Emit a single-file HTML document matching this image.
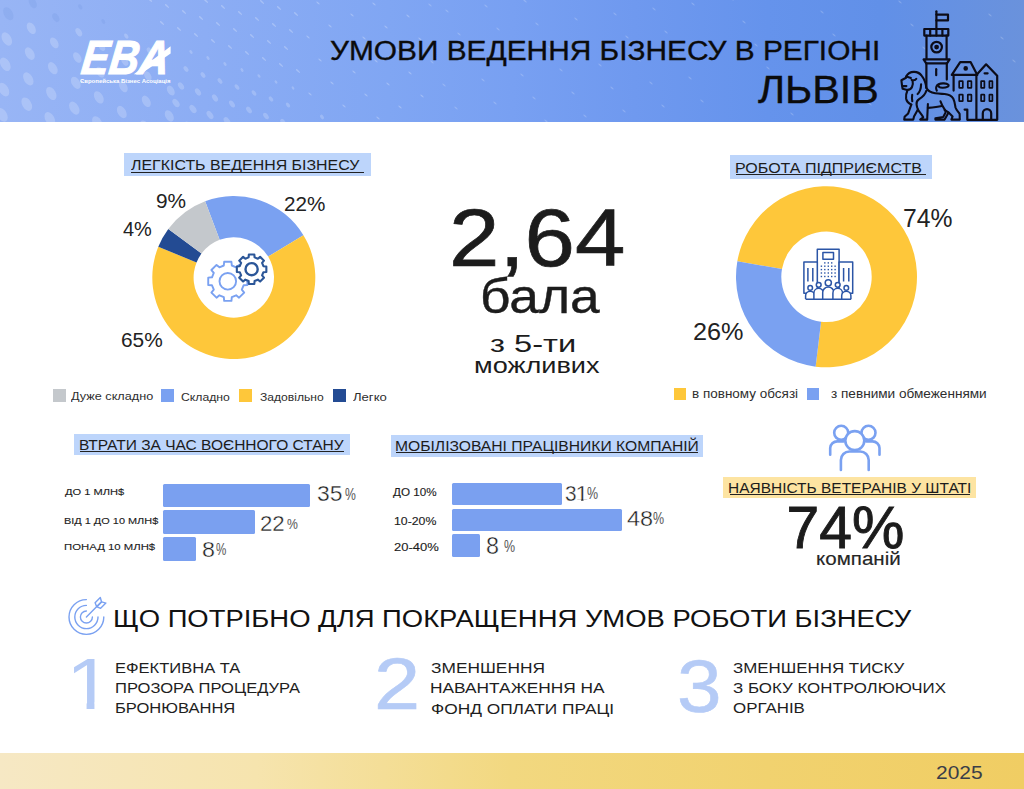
<!DOCTYPE html>
<html lang="uk"><head><meta charset="utf-8"><title>Умови ведення бізнесу в регіоні — Львів</title>
<style>
html,body{margin:0;padding:0;background:#fff;}
body{width:1024px;height:789px;position:relative;overflow:hidden;font-family:'Liberation Sans', 'DejaVu Sans', sans-serif;}
.t{position:absolute;white-space:nowrap;line-height:1;transform-origin:0 0;}
.abs{position:absolute;}
</style></head><body>
<div class="abs" style="left:0;top:0;width:1024px;height:122px;background:linear-gradient(90deg,#98b5f5 0%,#8cadf4 20%,#80a6f3 38%,#78a0f2 50%,#6f99ef 62%,#6593ec 75%,#6190e8 86%,#6a92dc 100%);"></div><svg class="abs" style="left:0;top:0" width="1024" height="122"><g fill="#fff"><ellipse cx="8.3" cy="13.7" rx="4.37" ry="7.03" transform="rotate(-30 8.3 13.7)" fill="#5f83d6" fill-opacity="0.15"/><ellipse cx="6.8" cy="39.0" rx="4.49" ry="7.22" transform="rotate(-30 6.8 39.0)" fill-opacity="0.2"/><ellipse cx="5.3" cy="64.3" rx="4.56" ry="7.33" transform="rotate(-30 5.3 64.3)" fill-opacity="0.2"/><ellipse cx="3.8" cy="89.6" rx="4.59" ry="7.38" transform="rotate(-30 3.8 89.6)" fill-opacity="0.2"/><ellipse cx="2.3" cy="114.9" rx="4.60" ry="7.40" transform="rotate(-30 2.3 114.9)" fill-opacity="0.2"/><ellipse cx="32.8" cy="3.0" rx="3.46" ry="5.57" transform="rotate(-30 32.8 3.0)" fill="#5f83d6" fill-opacity="0.15"/><ellipse cx="31.3" cy="28.3" rx="3.91" ry="6.30" transform="rotate(-30 31.3 28.3)" fill-opacity="0.2"/><ellipse cx="29.8" cy="53.6" rx="4.24" ry="6.82" transform="rotate(-30 29.8 53.6)" fill-opacity="0.2"/><ellipse cx="28.3" cy="78.9" rx="4.45" ry="7.16" transform="rotate(-30 28.3 78.9)" fill-opacity="0.2"/><ellipse cx="26.8" cy="104.2" rx="4.56" ry="7.34" transform="rotate(-30 26.8 104.2)" fill-opacity="0.2"/><ellipse cx="25.3" cy="129.5" rx="4.58" ry="7.37" transform="rotate(-30 25.3 129.5)" fill-opacity="0.2"/><ellipse cx="57.3" cy="-7.7" rx="2.17" ry="3.48" transform="rotate(-30 57.3 -7.7)" fill="#5f83d6" fill-opacity="0.15"/><ellipse cx="55.8" cy="17.6" rx="3.02" ry="4.86" transform="rotate(-30 55.8 17.6)" fill="#5f83d6" fill-opacity="0.15"/><ellipse cx="54.3" cy="42.9" rx="3.68" ry="5.91" transform="rotate(-30 54.3 42.9)" fill-opacity="0.2"/><ellipse cx="52.8" cy="68.2" rx="4.14" ry="6.66" transform="rotate(-30 52.8 68.2)" fill-opacity="0.2"/><ellipse cx="51.3" cy="93.5" rx="4.42" ry="7.11" transform="rotate(-30 51.3 93.5)" fill-opacity="0.2"/><ellipse cx="49.8" cy="118.8" rx="4.54" ry="7.30" transform="rotate(-30 49.8 118.8)" fill-opacity="0.2"/><ellipse cx="80.3" cy="6.9" rx="1.77" ry="2.85" transform="rotate(-30 80.3 6.9)" fill="#5f83d6" fill-opacity="0.15"/><ellipse cx="78.8" cy="32.2" rx="2.82" ry="4.54" transform="rotate(-30 78.8 32.2)" fill-opacity="0.2"/><ellipse cx="77.3" cy="57.5" rx="3.60" ry="5.80" transform="rotate(-30 77.3 57.5)" fill-opacity="0.2"/><ellipse cx="75.8" cy="82.8" rx="4.13" ry="6.64" transform="rotate(-30 75.8 82.8)" fill-opacity="0.2"/><ellipse cx="74.3" cy="108.1" rx="4.42" ry="7.10" transform="rotate(-30 74.3 108.1)" fill-opacity="0.2"/><ellipse cx="103.3" cy="21.5" rx="1.62" ry="2.61" transform="rotate(-30 103.3 21.5)" fill="#5f83d6" fill-opacity="0.15"/><ellipse cx="101.8" cy="46.8" rx="2.80" ry="4.50" transform="rotate(-30 101.8 46.8)" fill-opacity="0.2"/><ellipse cx="100.3" cy="72.1" rx="3.64" ry="5.86" transform="rotate(-30 100.3 72.1)" fill-opacity="0.2"/><ellipse cx="98.8" cy="97.4" rx="4.16" ry="6.70" transform="rotate(-30 98.8 97.4)" fill-opacity="0.2"/><ellipse cx="97.3" cy="122.7" rx="4.38" ry="7.05" transform="rotate(-30 97.3 122.7)" fill-opacity="0.2"/><ellipse cx="126.3" cy="36.1" rx="1.78" ry="2.86" transform="rotate(-30 126.3 36.1)" fill-opacity="0.2"/><ellipse cx="124.8" cy="61.4" rx="2.94" ry="4.73" transform="rotate(-30 124.8 61.4)" fill-opacity="0.2"/><ellipse cx="123.3" cy="86.7" rx="3.74" ry="6.02" transform="rotate(-30 123.3 86.7)" fill-opacity="0.2"/><ellipse cx="121.8" cy="112.0" rx="4.18" ry="6.73" transform="rotate(-30 121.8 112.0)" fill-opacity="0.2"/><ellipse cx="149.3" cy="50.7" rx="2.20" ry="3.55" transform="rotate(-30 149.3 50.7)" fill-opacity="0.2"/><ellipse cx="147.8" cy="76.0" rx="3.21" ry="5.16" transform="rotate(-30 147.8 76.0)" fill-opacity="0.2"/><ellipse cx="146.3" cy="101.3" rx="3.85" ry="6.19" transform="rotate(-30 146.3 101.3)" fill-opacity="0.2"/><ellipse cx="144.8" cy="126.6" rx="4.13" ry="6.64" transform="rotate(-30 144.8 126.6)" fill-opacity="0.2"/><ellipse cx="170.8" cy="90.6" rx="3.38" ry="5.43" transform="rotate(-30 170.8 90.6)" fill-opacity="0.2"/><ellipse cx="169.3" cy="115.9" rx="3.87" ry="6.22" transform="rotate(-30 169.3 115.9)" fill-opacity="0.2"/><ellipse cx="150.0" cy="0.0" rx="0.8" ry="2.7" transform="rotate(-48 150.0 0.0)" fill-opacity="0.26"/><ellipse cx="167.0" cy="6.0" rx="0.8" ry="2.7" transform="rotate(-48 167.0 6.0)" fill-opacity="0.26"/><ellipse cx="162.0" cy="23.0" rx="0.8" ry="2.7" transform="rotate(-48 162.0 23.0)" fill-opacity="0.26"/><ellipse cx="184.0" cy="12.0" rx="0.8" ry="2.7" transform="rotate(-48 184.0 12.0)" fill-opacity="0.26"/><ellipse cx="179.0" cy="29.0" rx="0.8" ry="2.7" transform="rotate(-48 179.0 29.0)" fill-opacity="0.26"/><ellipse cx="206.0" cy="1.0" rx="0.8" ry="2.7" transform="rotate(-48 206.0 1.0)" fill-opacity="0.26"/><ellipse cx="201.0" cy="18.0" rx="0.8" ry="2.7" transform="rotate(-48 201.0 18.0)" fill-opacity="0.26"/><ellipse cx="196.0" cy="35.0" rx="0.8" ry="2.7" transform="rotate(-48 196.0 35.0)" fill-opacity="0.26"/><ellipse cx="191.0" cy="52.0" rx="1.29" ry="2.14" transform="rotate(-36 191.0 52.0)" fill-opacity="0.2"/><ellipse cx="186.0" cy="69.0" rx="1.94" ry="3.23" transform="rotate(-36 186.0 69.0)" fill-opacity="0.2"/><ellipse cx="181.0" cy="86.0" rx="2.45" ry="4.08" transform="rotate(-36 181.0 86.0)" fill-opacity="0.2"/><ellipse cx="176.0" cy="103.0" rx="2.82" ry="4.70" transform="rotate(-36 176.0 103.0)" fill-opacity="0.2"/><ellipse cx="223.0" cy="7.0" rx="0.8" ry="2.7" transform="rotate(-48 223.0 7.0)" fill-opacity="0.26"/><ellipse cx="218.0" cy="24.0" rx="0.8" ry="2.7" transform="rotate(-48 218.0 24.0)" fill-opacity="0.26"/><ellipse cx="213.0" cy="41.0" rx="0.8" ry="2.7" transform="rotate(-48 213.0 41.0)" fill-opacity="0.26"/><ellipse cx="208.0" cy="58.0" rx="1.29" ry="2.15" transform="rotate(-36 208.0 58.0)" fill-opacity="0.2"/><ellipse cx="203.0" cy="75.0" rx="1.92" ry="3.21" transform="rotate(-36 203.0 75.0)" fill-opacity="0.2"/><ellipse cx="198.0" cy="92.0" rx="2.42" ry="4.03" transform="rotate(-36 198.0 92.0)" fill-opacity="0.2"/><ellipse cx="193.0" cy="109.0" rx="2.77" ry="4.62" transform="rotate(-36 193.0 109.0)" fill-opacity="0.2"/><ellipse cx="188.0" cy="126.0" rx="2.98" ry="4.97" transform="rotate(-36 188.0 126.0)" fill-opacity="0.2"/><ellipse cx="245.0" cy="-4.0" rx="0.8" ry="2.7" transform="rotate(-48 245.0 -4.0)" fill-opacity="0.26"/><ellipse cx="240.0" cy="13.0" rx="0.8" ry="2.7" transform="rotate(-48 240.0 13.0)" fill-opacity="0.26"/><ellipse cx="235.0" cy="30.0" rx="0.8" ry="2.7" transform="rotate(-48 235.0 30.0)" fill-opacity="0.26"/><ellipse cx="230.0" cy="47.0" rx="0.8" ry="2.7" transform="rotate(-48 230.0 47.0)" fill-opacity="0.26"/><ellipse cx="225.0" cy="64.0" rx="1.27" ry="2.12" transform="rotate(-36 225.0 64.0)" fill-opacity="0.2"/><ellipse cx="220.0" cy="81.0" rx="1.90" ry="3.16" transform="rotate(-36 220.0 81.0)" fill-opacity="0.2"/><ellipse cx="215.0" cy="98.0" rx="2.38" ry="3.96" transform="rotate(-36 215.0 98.0)" fill-opacity="0.2"/><ellipse cx="210.0" cy="115.0" rx="2.71" ry="4.52" transform="rotate(-36 210.0 115.0)" fill-opacity="0.2"/><ellipse cx="262.0" cy="2.0" rx="0.8" ry="2.7" transform="rotate(-48 262.0 2.0)" fill-opacity="0.26"/><ellipse cx="257.0" cy="19.0" rx="0.8" ry="2.7" transform="rotate(-48 257.0 19.0)" fill-opacity="0.26"/><ellipse cx="252.0" cy="36.0" rx="0.8" ry="2.7" transform="rotate(-48 252.0 36.0)" fill-opacity="0.26"/><ellipse cx="247.0" cy="53.0" rx="0.8" ry="2.7" transform="rotate(-48 247.0 53.0)" fill-opacity="0.26"/><ellipse cx="242.0" cy="70.0" rx="1.25" ry="2.08" transform="rotate(-36 242.0 70.0)" fill-opacity="0.2"/><ellipse cx="237.0" cy="87.0" rx="1.86" ry="3.10" transform="rotate(-36 237.0 87.0)" fill-opacity="0.2"/><ellipse cx="232.0" cy="104.0" rx="2.32" ry="3.87" transform="rotate(-36 232.0 104.0)" fill-opacity="0.2"/><ellipse cx="227.0" cy="121.0" rx="2.64" ry="4.40" transform="rotate(-36 227.0 121.0)" fill-opacity="0.2"/><ellipse cx="279.0" cy="8.0" rx="0.8" ry="2.7" transform="rotate(-48 279.0 8.0)" fill-opacity="0.26"/><ellipse cx="274.0" cy="25.0" rx="0.8" ry="2.7" transform="rotate(-48 274.0 25.0)" fill-opacity="0.26"/><ellipse cx="269.0" cy="42.0" rx="0.8" ry="2.7" transform="rotate(-48 269.0 42.0)" fill-opacity="0.26"/><ellipse cx="264.0" cy="59.0" rx="0.8" ry="2.7" transform="rotate(-48 264.0 59.0)" fill-opacity="0.26"/><ellipse cx="259.0" cy="76.0" rx="1.21" ry="2.02" transform="rotate(-36 259.0 76.0)" fill-opacity="0.2"/><ellipse cx="254.0" cy="93.0" rx="1.81" ry="3.02" transform="rotate(-36 254.0 93.0)" fill-opacity="0.2"/><ellipse cx="249.0" cy="110.0" rx="2.26" ry="3.77" transform="rotate(-36 249.0 110.0)" fill-opacity="0.2"/><ellipse cx="296.0" cy="14.0" rx="0.8" ry="2.7" transform="rotate(-48 296.0 14.0)" fill-opacity="0.26"/><ellipse cx="291.0" cy="31.0" rx="0.8" ry="2.7" transform="rotate(-48 291.0 31.0)" fill-opacity="0.26"/><ellipse cx="286.0" cy="48.0" rx="0.8" ry="2.7" transform="rotate(-48 286.0 48.0)" fill-opacity="0.26"/><ellipse cx="281.0" cy="65.0" rx="0.8" ry="2.7" transform="rotate(-48 281.0 65.0)" fill-opacity="0.26"/><ellipse cx="276.0" cy="82.0" rx="1.16" ry="1.94" transform="rotate(-36 276.0 82.0)" fill-opacity="0.2"/><ellipse cx="271.0" cy="99.0" rx="1.75" ry="2.92" transform="rotate(-36 271.0 99.0)" fill-opacity="0.2"/><ellipse cx="266.0" cy="116.0" rx="2.20" ry="3.66" transform="rotate(-36 266.0 116.0)" fill-opacity="0.2"/><ellipse cx="318.0" cy="3.0" rx="0.7" ry="2.2" transform="rotate(-48 318.0 3.0)" fill-opacity="0.26"/><ellipse cx="308.0" cy="37.0" rx="0.7" ry="2.2" transform="rotate(-48 308.0 37.0)" fill-opacity="0.26"/><ellipse cx="298.0" cy="71.0" rx="0.8" ry="2.7" transform="rotate(-48 298.0 71.0)" fill-opacity="0.26"/><ellipse cx="293.0" cy="88.0" rx="1.11" ry="1.85" transform="rotate(-36 293.0 88.0)" fill-opacity="0.2"/><ellipse cx="288.0" cy="105.0" rx="1.70" ry="2.83" transform="rotate(-36 288.0 105.0)" fill-opacity="0.2"/><ellipse cx="283.0" cy="122.0" rx="2.13" ry="3.55" transform="rotate(-36 283.0 122.0)" fill-opacity="0.2"/><ellipse cx="330.0" cy="26.0" rx="0.7" ry="2.2" transform="rotate(-48 330.0 26.0)" fill-opacity="0.26"/><ellipse cx="320.0" cy="60.0" rx="0.7" ry="2.2" transform="rotate(-48 320.0 60.0)" fill-opacity="0.26"/><ellipse cx="310.0" cy="94.0" rx="0.7" ry="2.2" transform="rotate(-48 310.0 94.0)" fill-opacity="0.26"/><ellipse cx="352.0" cy="15.0" rx="0.7" ry="2.2" transform="rotate(-48 352.0 15.0)" fill-opacity="0.26"/><ellipse cx="342.0" cy="49.0" rx="0.7" ry="2.2" transform="rotate(-48 342.0 49.0)" fill-opacity="0.26"/><ellipse cx="332.0" cy="83.0" rx="0.7" ry="2.2" transform="rotate(-48 332.0 83.0)" fill-opacity="0.26"/><ellipse cx="322.0" cy="117.0" rx="1.57" ry="2.62" transform="rotate(-36 322.0 117.0)" fill-opacity="0.2"/><ellipse cx="374.0" cy="4.0" rx="0.7" ry="2.2" transform="rotate(-48 374.0 4.0)" fill-opacity="0.26"/><ellipse cx="364.0" cy="38.0" rx="0.7" ry="2.2" transform="rotate(-48 364.0 38.0)" fill-opacity="0.26"/><ellipse cx="354.0" cy="72.0" rx="0.7" ry="2.2" transform="rotate(-48 354.0 72.0)" fill-opacity="0.26"/><ellipse cx="344.0" cy="106.0" rx="0.7" ry="2.2" transform="rotate(-48 344.0 106.0)" fill-opacity="0.26"/><ellipse cx="386.0" cy="27.0" rx="0.7" ry="2.2" transform="rotate(-48 386.0 27.0)" fill-opacity="0.26"/><ellipse cx="376.0" cy="61.0" rx="0.7" ry="2.2" transform="rotate(-48 376.0 61.0)" fill-opacity="0.26"/><ellipse cx="366.0" cy="95.0" rx="0.7" ry="2.2" transform="rotate(-48 366.0 95.0)" fill-opacity="0.26"/><ellipse cx="408.0" cy="16.0" rx="0.7" ry="2.2" transform="rotate(-48 408.0 16.0)" fill-opacity="0.26"/><ellipse cx="398.0" cy="50.0" rx="0.7" ry="2.2" transform="rotate(-48 398.0 50.0)" fill-opacity="0.26"/><ellipse cx="388.0" cy="84.0" rx="0.7" ry="2.2" transform="rotate(-48 388.0 84.0)" fill-opacity="0.26"/><ellipse cx="378.0" cy="118.0" rx="0.7" ry="2.2" transform="rotate(-48 378.0 118.0)" fill-opacity="0.26"/><ellipse cx="430.0" cy="5.0" rx="0.7" ry="2.2" transform="rotate(-48 430.0 5.0)" fill-opacity="0.2"/><ellipse cx="420.0" cy="39.0" rx="0.7" ry="2.2" transform="rotate(-48 420.0 39.0)" fill-opacity="0.26"/><ellipse cx="410.0" cy="73.0" rx="0.7" ry="2.2" transform="rotate(-48 410.0 73.0)" fill-opacity="0.26"/><ellipse cx="400.0" cy="107.0" rx="0.7" ry="2.2" transform="rotate(-48 400.0 107.0)" fill-opacity="0.26"/><ellipse cx="447.0" cy="11.0" rx="0.7" ry="2.2" transform="rotate(-48 447.0 11.0)" fill-opacity="0.2"/><ellipse cx="432.0" cy="62.0" rx="0.7" ry="2.2" transform="rotate(-48 432.0 62.0)" fill-opacity="0.2"/><ellipse cx="422.0" cy="96.0" rx="0.7" ry="2.2" transform="rotate(-48 422.0 96.0)" fill-opacity="0.26"/><ellipse cx="459.0" cy="34.0" rx="0.7" ry="2.2" transform="rotate(-48 459.0 34.0)" fill-opacity="0.2"/><ellipse cx="444.0" cy="85.0" rx="0.7" ry="2.2" transform="rotate(-48 444.0 85.0)" fill-opacity="0.2"/><ellipse cx="486.0" cy="6.0" rx="0.7" ry="2.2" transform="rotate(-48 486.0 6.0)" fill-opacity="0.2"/><ellipse cx="471.0" cy="57.0" rx="0.7" ry="2.2" transform="rotate(-48 471.0 57.0)" fill-opacity="0.2"/><ellipse cx="456.0" cy="108.0" rx="0.7" ry="2.2" transform="rotate(-48 456.0 108.0)" fill-opacity="0.2"/><ellipse cx="498.0" cy="29.0" rx="0.7" ry="2.2" transform="rotate(-48 498.0 29.0)" fill-opacity="0.2"/><ellipse cx="483.0" cy="80.0" rx="0.7" ry="2.2" transform="rotate(-48 483.0 80.0)" fill-opacity="0.2"/><ellipse cx="525.0" cy="1.0" rx="0.7" ry="2.2" transform="rotate(-48 525.0 1.0)" fill-opacity="0.2"/><ellipse cx="510.0" cy="52.0" rx="0.7" ry="2.2" transform="rotate(-48 510.0 52.0)" fill-opacity="0.2"/><ellipse cx="495.0" cy="103.0" rx="0.7" ry="2.2" transform="rotate(-48 495.0 103.0)" fill-opacity="0.2"/><ellipse cx="537.0" cy="24.0" rx="0.7" ry="2.2" transform="rotate(-48 537.0 24.0)" fill-opacity="0.2"/><ellipse cx="522.0" cy="75.0" rx="0.7" ry="2.2" transform="rotate(-48 522.0 75.0)" fill-opacity="0.2"/><ellipse cx="507.0" cy="126.0" rx="0.7" ry="2.2" transform="rotate(-48 507.0 126.0)" fill-opacity="0.2"/><ellipse cx="564.0" cy="-4.0" rx="0.7" ry="2.2" transform="rotate(-48 564.0 -4.0)" fill-opacity="0.2"/><ellipse cx="549.0" cy="47.0" rx="0.7" ry="2.2" transform="rotate(-48 549.0 47.0)" fill-opacity="0.2"/><ellipse cx="534.0" cy="98.0" rx="0.7" ry="2.2" transform="rotate(-48 534.0 98.0)" fill-opacity="0.2"/><ellipse cx="576.0" cy="19.0" rx="0.7" ry="2.2" transform="rotate(-48 576.0 19.0)" fill-opacity="0.2"/><ellipse cx="561.0" cy="70.0" rx="0.7" ry="2.2" transform="rotate(-48 561.0 70.0)" fill-opacity="0.2"/><ellipse cx="546.0" cy="121.0" rx="0.7" ry="2.2" transform="rotate(-48 546.0 121.0)" fill-opacity="0.2"/><ellipse cx="588.0" cy="42.0" rx="0.7" ry="2.2" transform="rotate(-48 588.0 42.0)" fill-opacity="0.2"/><ellipse cx="573.0" cy="93.0" rx="0.7" ry="2.2" transform="rotate(-48 573.0 93.0)" fill-opacity="0.2"/><ellipse cx="615.0" cy="14.0" rx="0.7" ry="2.2" transform="rotate(-48 615.0 14.0)" fill-opacity="0.2"/><ellipse cx="600.0" cy="65.0" rx="0.7" ry="2.2" transform="rotate(-48 600.0 65.0)" fill-opacity="0.2"/><ellipse cx="585.0" cy="116.0" rx="0.7" ry="2.2" transform="rotate(-48 585.0 116.0)" fill-opacity="0.2"/><ellipse cx="627.0" cy="37.0" rx="0.7" ry="2.2" transform="rotate(-48 627.0 37.0)" fill-opacity="0.2"/><ellipse cx="612.0" cy="88.0" rx="0.7" ry="2.2" transform="rotate(-48 612.0 88.0)" fill-opacity="0.2"/><ellipse cx="654.0" cy="9.0" rx="0.7" ry="2.2" transform="rotate(-48 654.0 9.0)" fill-opacity="0.2"/><ellipse cx="639.0" cy="60.0" rx="0.7" ry="2.2" transform="rotate(-48 639.0 60.0)" fill-opacity="0.2"/><ellipse cx="624.0" cy="111.0" rx="0.7" ry="2.2" transform="rotate(-48 624.0 111.0)" fill-opacity="0.2"/><ellipse cx="666.0" cy="32.0" rx="0.7" ry="2.2" transform="rotate(-48 666.0 32.0)" fill-opacity="0.2"/><ellipse cx="651.0" cy="83.0" rx="0.7" ry="2.2" transform="rotate(-48 651.0 83.0)" fill-opacity="0.2"/><ellipse cx="693.0" cy="4.0" rx="0.7" ry="2.2" transform="rotate(-48 693.0 4.0)" fill-opacity="0.2"/><ellipse cx="678.0" cy="55.0" rx="0.7" ry="2.2" transform="rotate(-48 678.0 55.0)" fill-opacity="0.2"/><ellipse cx="663.0" cy="106.0" rx="0.7" ry="2.2" transform="rotate(-48 663.0 106.0)" fill-opacity="0.2"/><ellipse cx="690.0" cy="78.0" rx="0.7" ry="2.2" transform="rotate(-48 690.0 78.0)" fill-opacity="0.2"/><ellipse cx="732.0" cy="-1.0" rx="0.7" ry="2.2" transform="rotate(-48 732.0 -1.0)" fill-opacity="0.2"/><ellipse cx="702.0" cy="101.0" rx="0.7" ry="2.2" transform="rotate(-48 702.0 101.0)" fill-opacity="0.2"/><ellipse cx="744.0" cy="22.0" rx="0.7" ry="2.2" transform="rotate(-48 744.0 22.0)" fill-opacity="0.2"/><ellipse cx="714.0" cy="124.0" rx="0.7" ry="2.2" transform="rotate(-48 714.0 124.0)" fill-opacity="0.2"/><ellipse cx="756.0" cy="45.0" rx="0.7" ry="2.2" transform="rotate(-48 756.0 45.0)" fill-opacity="0.2"/><ellipse cx="768.0" cy="68.0" rx="0.7" ry="2.2" transform="rotate(-48 768.0 68.0)" fill-opacity="0.2"/><ellipse cx="780.0" cy="91.0" rx="0.7" ry="2.2" transform="rotate(-48 780.0 91.0)" fill-opacity="0.2"/><ellipse cx="822.0" cy="12.0" rx="0.7" ry="2.2" transform="rotate(-48 822.0 12.0)" fill-opacity="0.2"/><ellipse cx="792.0" cy="114.0" rx="0.7" ry="2.2" transform="rotate(-48 792.0 114.0)" fill-opacity="0.2"/><ellipse cx="834.0" cy="35.0" rx="0.7" ry="2.2" transform="rotate(-48 834.0 35.0)" fill-opacity="0.2"/><ellipse cx="846.0" cy="58.0" rx="0.7" ry="2.2" transform="rotate(-48 846.0 58.0)" fill-opacity="0.2"/><ellipse cx="858.0" cy="81.0" rx="0.7" ry="2.2" transform="rotate(-48 858.0 81.0)" fill-opacity="0.2"/><ellipse cx="900.0" cy="2.0" rx="0.7" ry="2.2" transform="rotate(-48 900.0 2.0)" fill-opacity="0.2"/><ellipse cx="870.0" cy="104.0" rx="0.7" ry="2.2" transform="rotate(-48 870.0 104.0)" fill-opacity="0.2"/><ellipse cx="912.0" cy="25.0" rx="0.7" ry="2.2" transform="rotate(-48 912.0 25.0)" fill-opacity="0.2"/><ellipse cx="924.0" cy="48.0" rx="0.7" ry="2.2" transform="rotate(-48 924.0 48.0)" fill-opacity="0.2"/><ellipse cx="936.0" cy="71.0" rx="0.7" ry="2.2" transform="rotate(-48 936.0 71.0)" fill-opacity="0.2"/><ellipse cx="948.0" cy="94.0" rx="0.7" ry="2.2" transform="rotate(-48 948.0 94.0)" fill-opacity="0.2"/><ellipse cx="990.0" cy="15.0" rx="0.7" ry="2.2" transform="rotate(-48 990.0 15.0)" fill-opacity="0.2"/><ellipse cx="960.0" cy="117.0" rx="0.7" ry="2.2" transform="rotate(-48 960.0 117.0)" fill-opacity="0.2"/><ellipse cx="1002.0" cy="38.0" rx="0.7" ry="2.2" transform="rotate(-48 1002.0 38.0)" fill-opacity="0.2"/><ellipse cx="1014.0" cy="61.0" rx="0.7" ry="2.2" transform="rotate(-48 1014.0 61.0)" fill-opacity="0.2"/></g></svg><svg class="abs" style="left:0;top:0" width="200" height="100"><path d="M133.8,74.3 L140.5,74.3 L170.6,53.5 L170.6,46.2 Z" fill="#fff"/></svg><div class="abs" style="left:0;top:753px;width:1024px;height:36px;background:linear-gradient(90deg,#f6e8c4 0%,#f6e4ae 25%,#f2d880 50%,#f1d26f 75%,#f0cd63 100%);"></div><div class="abs" style="left:124px;top:153px;width:246.5px;height:23px;background:#bdd5fb;"></div><div class="abs" style="left:730px;top:155.2px;width:202px;height:23.400000000000006px;background:#bdd5fb;"></div><div class="abs" style="left:74px;top:433.5px;width:276px;height:21.5px;background:#bdd5fb;"></div><div class="abs" style="left:391.3px;top:434.7px;width:311.7px;height:21.900000000000034px;background:#bdd5fb;"></div><div class="abs" style="left:723.4px;top:476.6px;width:252.60000000000002px;height:21.099999999999966px;background:#fde4a2;"></div><div class="abs" style="left:163px;top:483.6px;width:146.89999999999998px;height:23.5px;background:#7aa0f0;border-radius:1.5px;"></div><div class="abs" style="left:163px;top:510.3px;width:92.1px;height:23.499999999999943px;background:#7aa0f0;border-radius:1.5px;"></div><div class="abs" style="left:163px;top:537.3px;width:33.19999999999999px;height:23.5px;background:#7aa0f0;border-radius:1.5px;"></div><div class="abs" style="left:452.1px;top:482.8px;width:109.5px;height:22.099999999999966px;background:#7aa0f0;border-radius:1.5px;"></div><div class="abs" style="left:452.1px;top:508.6px;width:169.79999999999995px;height:22.600000000000023px;background:#7aa0f0;border-radius:1.5px;"></div><div class="abs" style="left:452.1px;top:534.2px;width:28.19999999999999px;height:23.0px;background:#7aa0f0;border-radius:1.5px;"></div><div class="abs" style="left:52.9px;top:389.2px;width:13.2px;height:13px;background:#c4c8cc;"></div><div class="abs" style="left:160.9px;top:389.2px;width:13px;height:13px;background:#7aa1f1;"></div><div class="abs" style="left:238.9px;top:389.3px;width:13.3px;height:13.2px;background:#fec73a;"></div><div class="abs" style="left:333.1px;top:389.3px;width:12.6px;height:13.2px;background:#234b93;"></div><div class="abs" style="left:673.9px;top:387.9px;width:12.1px;height:11.8px;background:#fec73a;"></div><div class="abs" style="left:806.8px;top:387.9px;width:12px;height:11.8px;background:#7aa1f1;"></div><svg class="abs" style="left:0;top:0" width="1024" height="789" viewBox="0 0 1024 789"><path fill="#7aa1f1" d="M205.12,201.21 A81.5,81.5 0 0 1 303.44,235.16 L268.15,256.62 A40.2,40.2 0 0 0 219.66,239.87 Z"/><path fill="#fec73a" d="M303.44,235.16 A81.5,81.5 0 1 1 158.29,246.84 L196.55,262.38 A40.2,40.2 0 1 0 268.15,256.62 Z"/><path fill="#234b93" d="M158.29,246.84 A81.5,81.5 0 0 1 168.29,229.02 L201.48,253.59 A40.2,40.2 0 0 0 196.55,262.38 Z"/><path fill="#c4c8cc" d="M168.29,229.02 A81.5,81.5 0 0 1 205.12,201.21 L219.66,239.87 A40.2,40.2 0 0 0 201.48,253.59 Z"/><path fill="#fec73a" d="M737.35,261.24 A90.5,90.5 0 1 1 815.63,366.64 L821.07,321.67 A45.2,45.2 0 1 0 781.97,269.03 Z"/><path fill="#7aa1f1" d="M815.63,366.64 A90.5,90.5 0 0 1 737.35,261.24 L781.97,269.03 A45.2,45.2 0 0 0 821.07,321.67 Z"/><path d="M223.81,265.50 L224.17,261.73 L231.43,261.73 L231.79,265.50 L236.15,267.30 L239.07,264.90 L244.20,270.03 L241.80,272.95 L243.60,277.31 L247.37,277.67 L247.37,284.93 L243.60,285.29 L241.80,289.65 L244.20,292.57 L239.07,297.70 L236.15,295.30 L231.79,297.10 L231.43,300.87 L224.17,300.87 L223.81,297.10 L219.45,295.30 L216.53,297.70 L211.40,292.57 L213.80,289.65 L212.00,285.29 L208.23,284.93 L208.23,277.67 L212.00,277.31 L213.80,272.95 L211.40,270.03 L216.53,264.90 L219.45,267.30 Z" fill="#fff" stroke="#7aa1f1" stroke-width="1.9" stroke-linejoin="round"/><circle cx="227.8" cy="281.3" r="8.3" fill="none" stroke="#7aa1f1" stroke-width="1.9"/><path d="M248.61,257.37 L248.87,254.45 L254.33,254.45 L254.59,257.37 L257.85,258.72 L260.10,256.84 L263.96,260.70 L262.08,262.95 L263.43,266.21 L266.35,266.47 L266.35,271.93 L263.43,272.19 L262.08,275.45 L263.96,277.70 L260.10,281.56 L257.85,279.68 L254.59,281.03 L254.33,283.95 L248.87,283.95 L248.61,281.03 L245.35,279.68 L243.10,281.56 L239.24,277.70 L241.12,275.45 L239.77,272.19 L236.85,271.93 L236.85,266.47 L239.77,266.21 L241.12,262.95 L239.24,260.70 L243.10,256.84 L245.35,258.72 Z" fill="#fff" stroke="#2b5698" stroke-width="2.1" stroke-linejoin="round"/><circle cx="251.6" cy="269.2" r="6.1" fill="none" stroke="#2b5698" stroke-width="2.4"/><g transform="translate(798,243)" stroke="#2b55a6" stroke-width="1.5" fill="none" stroke-linejoin="round"><rect x="19.3" y="6.3" width="21.8" height="45" fill="#fff"/><rect x="5.9" y="18.9" width="13.4" height="31.3" fill="#fff"/><rect x="41.1" y="18.9" width="13.6" height="31.3" fill="#fff"/><rect x="24.9" y="9.5" width="10.6" height="6.7"/><path d="M9.9,25.1V38.4 M14.8,25.1V38.4 M45.6,25.1V38.4 M50.8,25.1V38.4"/><g fill="#2b55a6" stroke="none"><rect x="26.10" y="19.2" width="1.4" height="1.4"/><rect x="29.60" y="19.2" width="1.4" height="1.4"/><rect x="33.00" y="19.2" width="1.4" height="1.4"/><rect x="22.70" y="22.50" width="1.4" height="1.4"/><rect x="26.10" y="22.50" width="1.4" height="1.4"/><rect x="29.60" y="22.50" width="1.4" height="1.4"/><rect x="33.00" y="22.50" width="1.4" height="1.4"/><rect x="36.40" y="22.50" width="1.4" height="1.4"/><rect x="22.70" y="25.90" width="1.4" height="1.4"/><rect x="26.10" y="25.90" width="1.4" height="1.4"/><rect x="29.60" y="25.90" width="1.4" height="1.4"/><rect x="33.00" y="25.90" width="1.4" height="1.4"/><rect x="36.40" y="25.90" width="1.4" height="1.4"/><rect x="22.70" y="29.30" width="1.4" height="1.4"/><rect x="26.10" y="29.30" width="1.4" height="1.4"/><rect x="29.60" y="29.30" width="1.4" height="1.4"/><rect x="33.00" y="29.30" width="1.4" height="1.4"/><rect x="36.40" y="29.30" width="1.4" height="1.4"/><rect x="22.70" y="32.80" width="1.4" height="1.4"/><rect x="26.10" y="32.80" width="1.4" height="1.4"/><rect x="29.60" y="32.80" width="1.4" height="1.4"/><rect x="33.00" y="32.80" width="1.4" height="1.4"/><rect x="36.40" y="32.80" width="1.4" height="1.4"/></g><circle cx="12.2" cy="44.9" r="2.3" fill="#fff"/><path d="M7.6,56 L7.6,52.800000000000004 A4.6,4.6 0 0 1 16.799999999999997,52.800000000000004 L16.799999999999997,56" fill="#fff"/><circle cx="20.7" cy="41.8" r="2.4" fill="#fff"/><path d="M15.899999999999999,56 L15.899999999999999,50.099999999999994 A4.8,4.8 0 0 1 25.5,50.099999999999994 L25.5,56" fill="#fff"/><circle cx="30.3" cy="39.8" r="3.1" fill="#fff"/><path d="M24.700000000000003,56 L24.700000000000003,49.6 A5.6,5.6 0 0 1 35.9,49.6 L35.9,56" fill="#fff"/><circle cx="39.7" cy="41.8" r="2.4" fill="#fff"/><path d="M34.900000000000006,56 L34.900000000000006,50.099999999999994 A4.8,4.8 0 0 1 44.5,50.099999999999994 L44.5,56" fill="#fff"/><circle cx="48.3" cy="44.9" r="2.3" fill="#fff"/><path d="M43.699999999999996,56 L43.699999999999996,52.800000000000004 A4.6,4.6 0 0 1 52.9,52.800000000000004 L52.9,56" fill="#fff"/><path d="M7.6,56.2H53.2"/></g><g stroke="#7aa1f1" stroke-width="2.6" fill="none" stroke-linecap="round"><circle cx="841.2" cy="432.8" r="7.0"/><circle cx="868.5" cy="432.8" r="7.0"/><path d="M830.2,454.8 V448 A7,7 0 0 1 837.2,441.4 H843.5"/><path d="M879.5,454.8 V448 A7,7 0 0 0 872.5,441.4 H866.2"/><circle cx="854.8" cy="440.6" r="9.5" fill="#fff"/><path d="M840.9,470 V460 A8.5,8.5 0 0 1 849.4,451.5 H860.2 A8.5,8.5 0 0 1 868.7,460 V470"/></g><g stroke="#7aa1f1" stroke-width="1.4" fill="none" stroke-linecap="round" stroke-linejoin="round"><path d="M86.40,599.60 A17.4,17.4 0 1 0 103.80,617.00 M86.40,605.40 A11.6,11.6 0 1 0 98.00,617.00 M86.40,611.00 A6.0,6.0 0 1 0 92.40,617.00"/><path d="M86.4,617.0 l10.4,-10.4"/><path d="M96.60000000000001,606.4 l-1.5,-3.6 l5.2,-5.3 l1.2,4.3 z"/><path d="M97.0,606.8 l3.6,1.5 l5.3,-5.2 l-4.3,-1.2 z"/></g><g stroke="#0c0c18" stroke-width="2.2" fill="none" stroke-linecap="round" stroke-linejoin="round"><path d="M936.4,11.3 V28.3"/><path d="M936.4,14.6 H948.0 V20.4 H936.4"/><rect x="924.3" y="29" width="24" height="6.6"/><path d="M930.2,29 V35.6 M936.4,29 V35.6 M942.4,29 V35.6"/><path d="M926.5,35.6 V59.2 M946.6,35.6 V59.2"/><circle cx="936.6" cy="47.1" r="5.3"/><circle cx="936.6" cy="47.1" r="1.3" fill="#0c0c18"/><path d="M923.6,59.4 H949.6 L947,63.4 H926.2 Z"/><path d="M926.4,63.4 V87"/><path d="M946.8,63.4 V79.6"/><path d="M936.2,69.2 V75.2"/><path d="M951.8,74.9 L960.2,62.2 H970.7 L977.3,74.9 Z"/><circle cx="965.7" cy="68.4" r="1.2" fill="#0c0c18"/><path d="M953.6,74.9 V90.6"/><path d="M976.4,74.9 V119.6"/><path d="M964.6,109.6 H967.3 V119.8 H997.2 V75.8 L986.1,64.3 L977.3,74"/><path d="M984.6,73.3 H987.6"/><path d="M982.8,119.8 V113.3 A4.2,4.2 0 0 1 991.2,113.3 V119.8"/></g><g stroke="#0c0c18" stroke-width="1.7" fill="none"><rect x="959.2" y="81.2" width="3.6" height="6.6" rx="0.4"/><rect x="959.2" y="94.6" width="3.6" height="6.6" rx="0.4"/><rect x="967.8" y="81.2" width="3.6" height="6.6" rx="0.4"/><rect x="967.8" y="94.6" width="3.6" height="6.6" rx="0.4"/><rect x="981.1" y="81.2" width="3.3" height="6.6" rx="0.4"/><rect x="981.1" y="94.6" width="3.3" height="6.6" rx="0.4"/><rect x="989.4" y="81.2" width="3.0" height="6.6" rx="0.4"/><rect x="989.4" y="94.6" width="3.0" height="6.6" rx="0.4"/></g><g stroke="#0c0c18" stroke-width="2.1" fill="none" stroke-linecap="round" stroke-linejoin="round"><path d="M906.1,76.6 C908,73.2 911,71.8 914.2,71.9 C917.5,72 920,73.5 921.6,75.6 C924,78.6 925.8,83 926.3,87.8"/><path d="M926.3,87.8 C927.5,90.3 930.5,92.6 935.2,93.3 C939,93.9 942,93.8 944.5,94 C948.5,94.3 951.5,95.6 953.2,98.5 C954.8,101.5 955,105 955.5,107.5 C956.3,110 958,111.5 959.6,113.8 L959.8,119.6 L951.4,119.6 L952.6,116.4 L948.6,112.6 C947.2,111.4 945.6,110.6 944.6,110"/><path d="M906.1,77.8 L901.4,80.3 L902,85.4 L902.6,88.7 L907.3,89.9 C909.5,89.8 911.2,88.8 912,87 C912.9,85 913,82.6 912.6,81"/><path d="M902.6,86.1 H906.4"/><path d="M911.6,79.9 C913.6,80.5 915.5,80.2 916.3,78.8"/><path d="M906.3,76.6 L910.9,78"/><path d="M921.1,84.3 C921,88.5 919.8,92 917.6,94.1"/><path d="M912.2,94.9 C911.8,97 911.9,99 912.3,101.3"/><path d="M907.3,90.8 C906.3,93 905.8,96 906.1,98.5 C906.5,101 908.5,103.2 911.3,104.6"/><path d="M926.3,90.8 C925.5,94 922.5,97 919.1,99.2 C917,100.6 916.3,102.5 916.6,104.6 C916.8,106.5 917.3,108 917.9,109.4"/><path d="M911.3,104.6 L908.2,113.4 L904.6,116.8 L904.2,119.6 L913.3,119.6 L914,116.6 L917.9,109.4 C919.4,112.2 921.4,114 923.2,117.2 L920.2,119.6 L927.2,119.6 L927.3,116.6 L927.9,104"/><path d="M927.9,107.9 C933,107.4 938,106.8 941.8,105.9"/><path d="M940.5,101.3 C941.6,104.2 942.8,106.6 943.9,108.2 C945.2,110 945.8,111.2 945.6,112.6 L943.2,117 L935.4,118.2 L935.4,119.6 L944.6,119.6 L948.6,112.6"/><path d="M936.8,90.6 C935.6,88.6 935.8,85.6 938.5,84.2 C941.5,82.9 946.5,83.2 948.4,84.8 C949.4,86.4 946.5,87.9 942.5,87.8 C940,87.7 938.6,86.8 938.6,85.8"/></g></svg>
<div class="t" id="h1" style="left:329.73px;top:37.00px;font-size:27.59px;font-family:'Liberation Sans', 'DejaVu Sans', sans-serif;font-weight:400;font-style:normal;color:#0b0b0b;text-transform:uppercase;transform:scaleX(1.0821);-webkit-text-stroke:0.35px #0b0b0b;">Умови ведення бізнесу в регіоні</div>
<div class="t" id="h2" style="left:758.40px;top:71.00px;font-size:38.97px;font-family:'Liberation Sans', 'DejaVu Sans', sans-serif;font-weight:400;font-style:normal;color:#0b0b0b;text-transform:uppercase;transform:scaleX(1.0604);-webkit-text-stroke:0.4px #0b0b0b;">Львів</div>
<div class="t" id="eba" style="left:79.84px;top:33.90px;font-size:47.79px;font-family:'Liberation Sans', 'DejaVu Sans', sans-serif;font-weight:700;font-style:italic;color:#ffffff;transform:scaleX(0.8815);-webkit-text-stroke:1.1px #fff;transform-origin:0 40.4px;transform:scaleX(0.866) skewX(-8deg);">EBA</div>
<div class="t" id="ebs" style="left:79.61px;top:78.50px;font-size:5.55px;font-family:'Liberation Sans', 'DejaVu Sans', sans-serif;font-weight:700;font-style:normal;color:#ffffff;transform:scaleX(1.0802);">Європейська Бізнес Асоціація</div>
<div class="t" id="s1" style="left:130.60px;top:159.30px;font-size:13.94px;font-family:'Liberation Sans', 'DejaVu Sans', sans-serif;font-weight:400;font-style:normal;color:#1c1c1c;text-transform:uppercase;transform:scaleX(1.1429);">легкість ведення бізнесу</div>
<div class="t" id="s2" style="left:735.15px;top:161.00px;font-size:14.36px;font-family:'Liberation Sans', 'DejaVu Sans', sans-serif;font-weight:400;font-style:normal;color:#1c1c1c;text-transform:uppercase;transform:scaleX(1.1162);">Робота підприємств</div>
<div class="t" id="s3" style="left:78.79px;top:438.00px;font-size:14.65px;font-family:'Liberation Sans', 'DejaVu Sans', sans-serif;font-weight:400;font-style:normal;color:#1c1c1c;text-transform:uppercase;transform:scaleX(1.0598);">втрати за час воєнного стану</div>
<div class="t" id="s4" style="left:394.78px;top:439.00px;font-size:14.22px;font-family:'Liberation Sans', 'DejaVu Sans', sans-serif;font-weight:400;font-style:normal;color:#1c1c1c;text-transform:uppercase;transform:scaleX(1.1013);">мобілізовані працівники компаній</div>
<div class="t" id="s5" style="left:728.29px;top:481.20px;font-size:14.22px;font-family:'Liberation Sans', 'DejaVu Sans', sans-serif;font-weight:400;font-style:normal;color:#1c1c1c;text-transform:uppercase;transform:scaleX(1.0882);">наявність ветеранів у штаті</div>
<div class="t" id="p9" style="left:156.22px;top:190.40px;font-size:21.05px;font-family:'Liberation Sans', 'DejaVu Sans', sans-serif;font-weight:400;font-style:normal;color:#222;transform:scaleX(0.9893);">9%</div>
<div class="t" id="p22" style="left:284.13px;top:193.50px;font-size:20.91px;font-family:'Liberation Sans', 'DejaVu Sans', sans-serif;font-weight:400;font-style:normal;color:#222;transform:scaleX(0.9890);">22%</div>
<div class="t" id="p4" style="left:123.44px;top:218.90px;font-size:20.76px;font-family:'Liberation Sans', 'DejaVu Sans', sans-serif;font-weight:400;font-style:normal;color:#222;transform:scaleX(0.9615);">4%</div>
<div class="t" id="p65" style="left:120.72px;top:329.10px;font-size:21.05px;font-family:'Liberation Sans', 'DejaVu Sans', sans-serif;font-weight:400;font-style:normal;color:#222;transform:scaleX(0.9898);">65%</div>
<div class="t" id="p74" style="left:903.04px;top:206.00px;font-size:24.89px;font-family:'Liberation Sans', 'DejaVu Sans', sans-serif;font-weight:400;font-style:normal;color:#222;transform:scaleX(0.9936);">74%</div>
<div class="t" id="p26" style="left:693.32px;top:319.50px;font-size:24.75px;font-family:'Liberation Sans', 'DejaVu Sans', sans-serif;font-weight:400;font-style:normal;color:#222;transform:scaleX(1.0203);">26%</div>
<div class="t" id="big" style="left:449.05px;top:197.30px;font-size:81.92px;font-family:'Liberation Sans', 'DejaVu Sans', sans-serif;font-weight:400;font-style:normal;color:#1c1c1c;transform:scaleX(1.1064);-webkit-text-stroke:0.7px #1c1c1c;">2,64</div>
<div class="t" id="bala" style="left:480.20px;top:272.50px;font-size:47.73px;font-family:'Liberation Sans', 'DejaVu Sans', sans-serif;font-weight:400;font-style:normal;color:#1c1c1c;transform:scaleX(1.1175);-webkit-text-stroke:0.4px #1c1c1c;">бала</div>
<div class="t" id="z5" style="left:490.49px;top:333.00px;font-size:23.32px;font-family:'Liberation Sans', 'DejaVu Sans', sans-serif;font-weight:400;font-style:normal;color:#1c1c1c;transform:scaleX(1.3991);">з 5-ти</div>
<div class="t" id="mozh" style="left:473.91px;top:355.40px;font-size:21.94px;font-family:'Liberation Sans', 'DejaVu Sans', sans-serif;font-weight:400;font-style:normal;color:#1c1c1c;transform:scaleX(1.2353);">можливих</div>
<div class="t" id="lg1" style="left:71.10px;top:390.50px;font-size:11.52px;font-family:'Liberation Sans', 'DejaVu Sans', sans-serif;font-weight:400;font-style:normal;color:#2e2e2e;transform:scaleX(1.0990);">Дуже складно</div>
<div class="t" id="lg2" style="left:181.13px;top:392.00px;font-size:11.09px;font-family:'Liberation Sans', 'DejaVu Sans', sans-serif;font-weight:400;font-style:normal;color:#2e2e2e;transform:scaleX(1.1029);">Складно</div>
<div class="t" id="lg3" style="left:260.22px;top:391.50px;font-size:10.67px;font-family:'Liberation Sans', 'DejaVu Sans', sans-serif;font-weight:400;font-style:normal;color:#2e2e2e;transform:scaleX(1.1353);">Задовільно</div>
<div class="t" id="lg4" style="left:353.30px;top:391.90px;font-size:10.81px;font-family:'Liberation Sans', 'DejaVu Sans', sans-serif;font-weight:400;font-style:normal;color:#2e2e2e;transform:scaleX(1.2122);">Легко</div>
<div class="t" id="lg5" style="left:692.16px;top:386.90px;font-size:13.35px;font-family:'Liberation Sans', 'DejaVu Sans', sans-serif;font-weight:400;font-style:normal;color:#2e2e2e;transform:scaleX(1.0112);">в повному обсязі</div>
<div class="t" id="lg6" style="left:831.09px;top:387.80px;font-size:12.25px;font-family:'Liberation Sans', 'DejaVu Sans', sans-serif;font-weight:400;font-style:normal;color:#2e2e2e;transform:scaleX(1.1094);">з певними обмеженнями</div>
<div class="t" id="b1" style="left:64.80px;top:487.50px;font-size:9.10px;font-family:'Liberation Sans', 'DejaVu Sans', sans-serif;font-weight:400;font-style:normal;color:#1c1c1c;text-transform:uppercase;transform:scaleX(1.2193);-webkit-text-stroke:0.12px #1c1c1c;">до 1 млн$</div>
<div class="t" id="b2" style="left:63.65px;top:515.50px;font-size:9.96px;font-family:'Liberation Sans', 'DejaVu Sans', sans-serif;font-weight:400;font-style:normal;color:#1c1c1c;text-transform:uppercase;transform:scaleX(1.0978);-webkit-text-stroke:0.12px #1c1c1c;">від 1 до 10 млн$</div>
<div class="t" id="b3" style="left:64.31px;top:542.40px;font-size:9.96px;font-family:'Liberation Sans', 'DejaVu Sans', sans-serif;font-weight:400;font-style:normal;color:#1c1c1c;text-transform:uppercase;transform:scaleX(1.1405);-webkit-text-stroke:0.12px #1c1c1c;">понад 10 млн$</div>
<div class="t" id="c1" style="left:392.60px;top:487.40px;font-size:10.67px;font-family:'Liberation Sans', 'DejaVu Sans', sans-serif;font-weight:400;font-style:normal;color:#1c1c1c;text-transform:uppercase;transform:scaleX(1.0958);-webkit-text-stroke:0.12px #1c1c1c;">до 10%</div>
<div class="t" id="c2" style="left:394.13px;top:515.60px;font-size:10.81px;font-family:'Liberation Sans', 'DejaVu Sans', sans-serif;font-weight:400;font-style:normal;color:#1c1c1c;transform:scaleX(1.1390);-webkit-text-stroke:0.12px #1c1c1c;">10-20%</div>
<div class="t" id="c3" style="left:394.29px;top:541.50px;font-size:10.81px;font-family:'Liberation Sans', 'DejaVu Sans', sans-serif;font-weight:400;font-style:normal;color:#1c1c1c;transform:scaleX(1.2024);-webkit-text-stroke:0.12px #1c1c1c;">20-40%</div>
<div class="t" id="v35" style="left:317.09px;top:482.90px;font-size:22.33px;font-family:'Liberation Sans', 'DejaVu Sans', sans-serif;font-weight:400;font-style:normal;color:#1e1e1e;transform:scaleX(1.0244);-webkit-text-stroke:0.38px #fff;">35</div>
<div class="t" id="v35p" style="left:344.82px;top:485.70px;font-size:16.07px;font-family:'Liberation Sans', 'DejaVu Sans', sans-serif;font-weight:400;font-style:normal;color:#1e1e1e;transform:scaleX(0.7589);-webkit-text-stroke:0.2px #fff;">%</div>
<div class="t" id="v22" style="left:260.06px;top:512.90px;font-size:22.47px;font-family:'Liberation Sans', 'DejaVu Sans', sans-serif;font-weight:400;font-style:normal;color:#1e1e1e;transform:scaleX(0.9900);-webkit-text-stroke:0.38px #fff;">22</div>
<div class="t" id="v22p" style="left:286.82px;top:516.10px;font-size:15.50px;font-family:'Liberation Sans', 'DejaVu Sans', sans-serif;font-weight:400;font-style:normal;color:#1e1e1e;transform:scaleX(0.7867);-webkit-text-stroke:0.2px #fff;">%</div>
<div class="t" id="v8" style="left:201.97px;top:538.30px;font-size:22.90px;font-family:'Liberation Sans', 'DejaVu Sans', sans-serif;font-weight:400;font-style:normal;color:#1e1e1e;transform:scaleX(1.0188);-webkit-text-stroke:0.38px #fff;">8</div>
<div class="t" id="v8p" style="left:215.94px;top:541.40px;font-size:16.07px;font-family:'Liberation Sans', 'DejaVu Sans', sans-serif;font-weight:400;font-style:normal;color:#1e1e1e;transform:scaleX(0.7213);-webkit-text-stroke:0.2px #fff;">%</div>
<div class="t" id="w31" style="left:565.25px;top:482.00px;font-size:22.90px;font-family:'Liberation Sans', 'DejaVu Sans', sans-serif;font-weight:400;font-style:normal;color:#1e1e1e;transform:scaleX(0.9106);-webkit-text-stroke:0.38px #fff;">3</div>
<div class="t" id="w31b" style="left:575.60px;top:482.00px;font-size:22.90px;font-family:'Liberation Sans', 'DejaVu Sans', sans-serif;font-weight:400;font-style:normal;color:#1e1e1e;-webkit-text-stroke:0.38px #fff;clip-path:polygon(0 0,100% 0,100% 0.752em,0.34em 0.752em,0.34em 100%,0.245em 100%,0.245em 0.752em,0 0.752em);">1</div>
<div class="t" id="w31p" style="left:587.31px;top:485.10px;font-size:16.07px;font-family:'Liberation Sans', 'DejaVu Sans', sans-serif;font-weight:400;font-style:normal;color:#1e1e1e;transform:scaleX(0.7739);-webkit-text-stroke:0.2px #fff;">%</div>
<div class="t" id="w48" style="left:626.63px;top:507.90px;font-size:22.33px;font-family:'Liberation Sans', 'DejaVu Sans', sans-serif;font-weight:400;font-style:normal;color:#1e1e1e;transform:scaleX(1.0516);-webkit-text-stroke:0.38px #fff;">48</div>
<div class="t" id="w48p" style="left:653.31px;top:511.30px;font-size:15.79px;font-family:'Liberation Sans', 'DejaVu Sans', sans-serif;font-weight:400;font-style:normal;color:#1e1e1e;transform:scaleX(0.7879);-webkit-text-stroke:0.2px #fff;">%</div>
<div class="t" id="w8" style="left:486.37px;top:534.80px;font-size:23.04px;font-family:'Liberation Sans', 'DejaVu Sans', sans-serif;font-weight:400;font-style:normal;color:#1e1e1e;transform:scaleX(1.0125);-webkit-text-stroke:0.38px #fff;">8</div>
<div class="t" id="w8p" style="left:504.31px;top:538.20px;font-size:16.07px;font-family:'Liberation Sans', 'DejaVu Sans', sans-serif;font-weight:400;font-style:normal;color:#1e1e1e;transform:scaleX(0.7739);-webkit-text-stroke:0.2px #fff;">%</div>
<div class="t" id="vet" style="left:786.54px;top:499.30px;font-size:58.88px;font-family:'Liberation Sans', 'DejaVu Sans', sans-serif;font-weight:400;font-style:normal;color:#1c1c1c;-webkit-text-stroke:0.9px #1c1c1c;">74%</div>
<div class="t" id="komp" style="left:816.01px;top:550.90px;font-size:17.74px;font-family:'Liberation Sans', 'DejaVu Sans', sans-serif;font-weight:400;font-style:normal;color:#262626;transform:scaleX(1.1594);-webkit-text-stroke:0.15px #262626;">компаній</div>
<div class="t" id="hd" style="left:113.26px;top:606.50px;font-size:24.75px;font-family:'Liberation Sans', 'DejaVu Sans', sans-serif;font-weight:400;font-style:normal;color:#111;text-transform:uppercase;transform:scaleX(1.1080);">Що потрібно для покращення умов роботи бізнесу</div>
<div class="t" id="i1b" style="left:114.81px;top:680.90px;font-size:14.79px;font-family:'Liberation Sans', 'DejaVu Sans', sans-serif;font-weight:400;font-style:normal;color:#1e1e1e;transform:scaleX(1.1178);">ПРОЗОРА ПРОЦЕДУРА</div>
<div class="t" id="i1a" style="left:114.81px;top:660.80px;font-size:14.79px;font-family:'Liberation Sans', 'DejaVu Sans', sans-serif;font-weight:400;font-style:normal;color:#1e1e1e;transform:scaleX(1.1178);">ЕФЕКТИВНА ТА</div>
<div class="t" id="i1c" style="left:114.81px;top:701.10px;font-size:14.79px;font-family:'Liberation Sans', 'DejaVu Sans', sans-serif;font-weight:400;font-style:normal;color:#1e1e1e;transform:scaleX(1.1178);">БРОНЮВАННЯ</div>
<div class="t" id="i2c" style="left:430.89px;top:701.60px;font-size:14.79px;font-family:'Liberation Sans', 'DejaVu Sans', sans-serif;font-weight:400;font-style:normal;color:#1e1e1e;transform:scaleX(1.1719);">ФОНД ОПЛАТИ ПРАЦІ</div>
<div class="t" id="i2a" style="left:431.16px;top:660.60px;font-size:14.79px;font-family:'Liberation Sans', 'DejaVu Sans', sans-serif;font-weight:400;font-style:normal;color:#1e1e1e;transform:scaleX(1.1719);">ЗМЕНШЕННЯ</div>
<div class="t" id="i2b" style="left:430.35px;top:681.20px;font-size:14.79px;font-family:'Liberation Sans', 'DejaVu Sans', sans-serif;font-weight:400;font-style:normal;color:#1e1e1e;transform:scaleX(1.1719);">НАВАНТАЖЕННЯ НА</div>
<div class="t" id="i3b" style="left:733.17px;top:681.10px;font-size:14.79px;font-family:'Liberation Sans', 'DejaVu Sans', sans-serif;font-weight:400;font-style:normal;color:#1e1e1e;transform:scaleX(1.1434);">З БОКУ КОНТРОЛЮЮЧИХ</div>
<div class="t" id="i3a" style="left:733.17px;top:660.80px;font-size:14.79px;font-family:'Liberation Sans', 'DejaVu Sans', sans-serif;font-weight:400;font-style:normal;color:#1e1e1e;transform:scaleX(1.1434);">ЗМЕНШЕННЯ ТИСКУ</div>
<div class="t" id="i3c" style="left:732.91px;top:701.00px;font-size:14.79px;font-family:'Liberation Sans', 'DejaVu Sans', sans-serif;font-weight:400;font-style:normal;color:#1e1e1e;transform:scaleX(1.1434);">ОРГАНІВ</div>
<div class="t" id="n1" style="left:65.74px;top:648.50px;font-size:71.54px;font-family:'Liberation Sans', 'DejaVu Sans', sans-serif;font-weight:400;font-style:normal;color:#b5cbf6;transform:scaleX(1.1700);clip-path:polygon(0 0,100% 0,100% 53.9px,24.3px 53.9px,24.3px 100%,17.6px 100%,17.6px 53.9px,0 53.9px);">1</div>
<div class="t" id="n2" style="left:374.21px;top:647.50px;font-size:72.25px;font-family:'Liberation Sans', 'DejaVu Sans', sans-serif;font-weight:400;font-style:normal;color:#b5cbf6;transform:scaleX(1.1486);-webkit-text-stroke:0.6px #b5cbf6;">2</div>
<div class="t" id="n3" style="left:677.40px;top:649.60px;font-size:73.81px;font-family:'Liberation Sans', 'DejaVu Sans', sans-serif;font-weight:400;font-style:normal;color:#b5cbf6;transform:scaleX(1.0852);-webkit-text-stroke:0.6px #b5cbf6;">3</div>
<div class="t" id="yr" style="left:936.32px;top:765.40px;font-size:17.78px;font-family:'Liberation Sans', 'DejaVu Sans', sans-serif;font-weight:400;font-style:normal;color:#3a3d48;transform:scaleX(1.1791);">2025</div>
<div class="abs" style="left:130.6px;top:171.6px;width:233.79999999999998px;height:1.3px;background:#222;"></div><div class="abs" style="left:736.4px;top:173.7px;width:189.39999999999998px;height:1.3px;background:#222;"></div><div class="abs" style="left:80px;top:450.8px;width:263.6px;height:1.3px;background:#222;"></div><div class="abs" style="left:396px;top:451.8px;width:301.5px;height:1.3px;background:#222;"></div><div class="abs" style="left:729.5px;top:494.0px;width:240.70000000000005px;height:1.3px;background:#222;"></div>
</body></html>
